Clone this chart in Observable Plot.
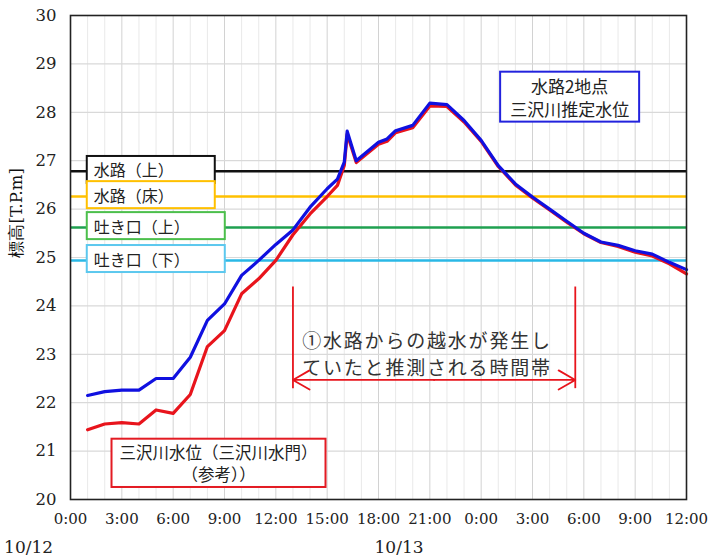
<!DOCTYPE html>
<html><head><meta charset="utf-8">
<script src="https://cdn.jsdelivr.net/npm/d3@7"></script>
<script src="https://cdn.jsdelivr.net/npm/@observablehq/plot@0.6"></script>
<style>body{margin:0;background:#fff}</style>
</head><body><div id="chart"></div>
<script>
// hours since 10/12 0:00
const times = [1,2,3,4,5,6,7,8,9,10,11,12,13,14,15,15.6,16,16.17,16.7,18,18.5,19,20,21,22,23,24,25,26,27,28,29,30,31,32,33,34,35,36];
// 水路2地点 三沢川推定水位
const estLevel = [22.15,22.23,22.26,22.26,22.50,22.50,22.94,23.70,24.04,24.63,24.94,25.27,25.57,26.04,26.42,26.62,26.97,27.61,27.00,27.38,27.45,27.62,27.73,28.19,28.16,27.83,27.42,26.90,26.52,26.25,26.00,25.75,25.50,25.32,25.25,25.14,25.07,24.90,24.75];
// 三沢川水位（三沢川水門）
const gateLevel = [21.44,21.56,21.59,21.56,21.85,21.78,22.17,23.16,23.49,24.25,24.56,24.94,25.47,25.90,26.26,26.49,26.90,27.55,26.96,27.34,27.40,27.58,27.68,28.13,28.12,27.80,27.40,26.88,26.50,26.23,25.98,25.73,25.49,25.31,25.23,25.11,25.03,24.87,24.66];
// reference elevations
const refNames = ["水路（上）","水路（床）","吐き口（上）","吐き口（下）"];
const refValues = [26.78, 26.26, 25.62, 24.94];
const refColors = ["#111111", "#ffc000", "#1fa050", "#2ab8e6"];
const refBoxColors = ["#111111", "#ffc000", "#4cbf4c", "#5cc8ee"];
// ticks and dates
const xTicks = [0,3,6,9,12,15,18,21,24,27,30,33,36];
const yTicks = [20,21,22,23,24,25,26,27,28,29,30];
const dateLabels = ["10/12", "10/13"];
const dateHours = [-2.45, 19.2];
const yTitle = "標高[T.P.m]";
const noteText = "①水路からの越水が発生し\nていたと推測される時間帯";
const blueBoxText = "水路2地点\n三沢川推定水位";
const redBoxText = "三沢川水位（三沢川水門）\n（参考））";
// flood period (hours)
const periodStart = 13, periodEnd = 29.5;

const RED = "#e8141c", BLUE = "#1010e0";
const CJK = "'Noto Sans CJK JP', sans-serif";

const chart = Plot.plot({
  width: 715, height: 557,
  marginLeft: 70, marginRight: 29, marginTop: 15, marginBottom: 58,
  style: {fontFamily: "'DejaVu Serif', serif", fontSize: "15px", color: "#222", background: "#fff", overflow: "visible"},
  color: {type: "identity"},
  x: {domain: [0, 36], ticks: xTicks, tickFormat: d => `${d % 24}:00`, tickSize: 0, tickPadding: 14, label: null},
  y: {domain: [20, 30], ticks: yTicks, tickSize: 0, tickPadding: 14, label: null},
  marks: [
    Plot.ruleX(d3.range(0, 37), {x: d => d, stroke: d => d % 3 === 0 ? "#d2d2d2" : "#e9e9e9", strokeWidth: 1}),
    Plot.ruleY(yTicks.slice(1, -1), {y: d => d, stroke: "#d9d9d9", strokeWidth: 1.2}),
    Plot.ruleY(refValues, {y: d => d, stroke: (d, i) => refColors[i], strokeWidth: 2.5}),
    Plot.line(times, {x: d => d, y: (d, i) => gateLevel[i], stroke: RED, strokeWidth: 3.2}),
    Plot.line(times, {x: d => d, y: (d, i) => estLevel[i], stroke: BLUE, strokeWidth: 3.2}),
    Plot.ruleX([periodStart, periodEnd], {x: d => d, y1: 22.29, y2: 24.39, stroke: RED, strokeWidth: 1.8}),
    Plot.arrow([periodStart, periodEnd], {x1: (periodStart + periodEnd) / 2, x2: d => d, y1: 22.47, y2: 22.47, stroke: RED, strokeWidth: 1.8, headLength: 16, headAngle: 60}),
    Plot.text([noteText], {x: () => 13.54, y: () => 23.03, text: d => d, textAnchor: "start", lineHeight: 1.42, fontSize: 19, fontFamily: CJK, fill: "#333"}),
    Plot.text(refNames, {x: () => 1.36, y: (d, i) => refValues[i], text: d => d, textAnchor: "start", fontSize: 16, fontFamily: CJK, fill: "#222"}),
    Plot.text([blueBoxText], {x: () => 29.17, y: () => 28.32, text: d => d, lineHeight: 1.35, fontSize: 17, fontFamily: CJK, fill: "#222"}),
    Plot.text([redBoxText], {x: () => 8.65, y: () => 20.76, text: d => d, lineHeight: 1.35, fontSize: 16.5, fontFamily: CJK, fill: "#222"}),
    Plot.text(dateLabels, {x: (d, i) => dateHours[i], y: () => 19.0, text: d => d, fontSize: 17, fill: "#222", clip: false}),
    Plot.text([yTitle], {frameAnchor: "left", rotate: -90, dx: -54, text: d => d, fontSize: 16.5, fill: "#111"}),
    Plot.frame({stroke: "#222", strokeWidth: 1.6})
  ]
});
document.getElementById("chart").appendChild(chart);

const svg = d3.select(chart);
// y tick labels a bit larger
svg.selectAll('g[aria-label^="y-axis"] text').style("font-size", "16.5px");

const jobs = [];
svg.selectAll("text").each(function() {
  const t = this.textContent;
  const ri = refNames.indexOf(t);
  if (ri >= 0) jobs.push([this, {px: 7, py: 1.5, minW: 128, extra: 42, stroke: refBoxColors[ri]}]);
  else if (t.startsWith("水路2地点")) jobs.push([this, {px: 10, py: 1, stroke: "#2222dd"}]);
  else if (t.startsWith("三沢川水位")) jobs.push([this, {px: 8, py: 1, stroke: "#e31b23"}]);
  else if (t.startsWith("①")) d3.select(this).attr("letter-spacing", "1.8px");
});
for (const [el, o] of jobs) {
  const b = el.getBBox();
  const w = o.minW ? Math.max(o.minW, b.width + o.extra) : b.width + 2 * o.px;
  d3.select(el.parentNode).insert("rect", () => el)
    .attr("transform", el.getAttribute("transform"))
    .attr("x", b.x - o.px).attr("y", b.y - o.py)
    .attr("width", w).attr("height", b.height + 2 * o.py)
    .attr("fill", "#fff").attr("stroke", o.stroke).attr("stroke-width", 2);
}
</script></body></html>
